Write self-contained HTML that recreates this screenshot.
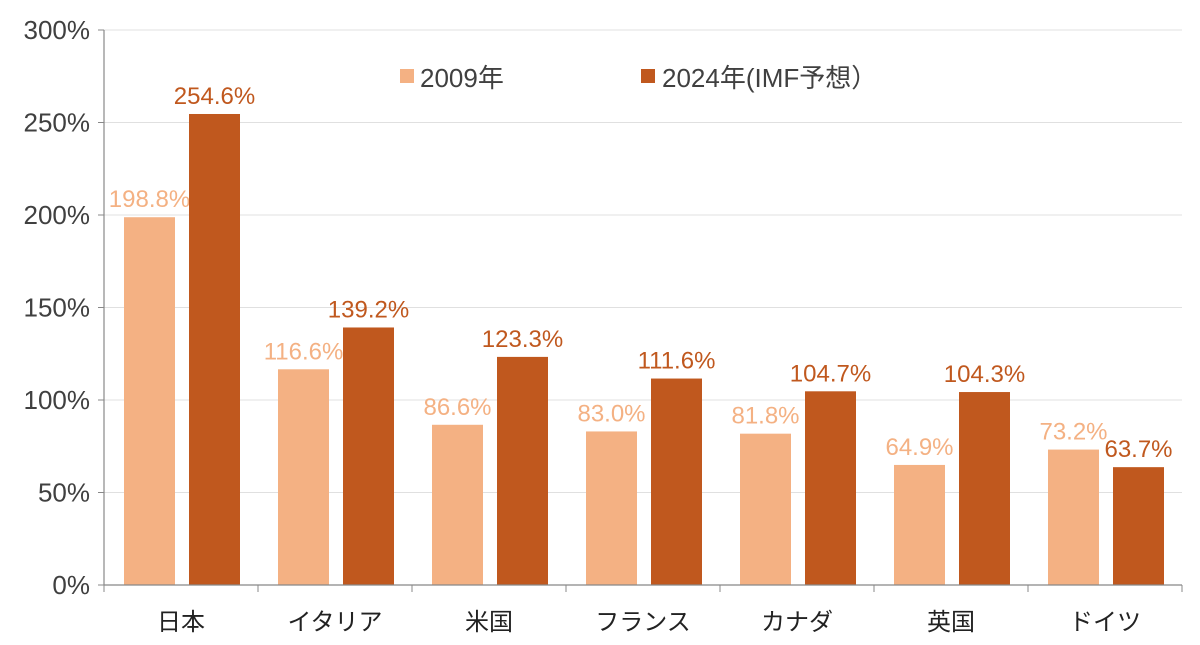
<!DOCTYPE html>
<html><head><meta charset="utf-8">
<style>
html,body{margin:0;padding:0;background:#fff;}
svg{display:block;font-family:"Liberation Sans","Noto Sans CJK JP",sans-serif;}
</style></head>
<body>
<svg id="chart" width="1200" height="645" viewBox="0 0 1200 645" xmlns="http://www.w3.org/2000/svg">
<g id="grid"></g>
<g id="yaxis"></g>
<g id="bars"></g>
<g id="xaxis"></g>
<g>
  <rect x="400" y="69" width="14" height="14" fill="#F4B183"/>
  <text x="420" y="87" font-size="26" fill="#404040">2009年</text>
  <rect x="641" y="69" width="14" height="14" fill="#C0581E"/>
  <text x="662" y="87" font-size="26" fill="#404040">2024年(IMF予想）</text>
</g>
</svg>
<script>
const categories = ["日本","イタリア","米国","フランス","カナダ","英国","ドイツ"];
const values2009 = [198.8,116.6,86.6,83.0,81.8,64.9,73.2];
const values2024 = [254.6,139.2,123.3,111.6,104.7,104.3,63.7];
const yTicks = [0,50,100,150,200,250,300];

const NS="http://www.w3.org/2000/svg";
const x0=104, x1=1182, y0=585, yTop=30, yMax=300;
const band=(x1-x0)/categories.length;
const y=v=>y0-(v/yMax)*(y0-yTop);
const xb=i=>x0+i*band;
function mk(tag,attrs,parent,text){const e=document.createElementNS(NS,tag);for(const k in attrs)e.setAttribute(k,attrs[k]);if(text!==undefined)e.textContent=text;parent.appendChild(e);return e;}
const grid=document.getElementById('grid'),yaxis=document.getElementById('yaxis'),bars=document.getElementById('bars'),xaxis=document.getElementById('xaxis');
yTicks.forEach(t=>{
  if(t>0){const g=mk('line',{x1:x0,x2:x1,y1:y(t),y2:y(t),stroke:'#E0E0E0','stroke-width':1},grid);
  
  }
  const tk=mk('line',{x1:x0-6,x2:x0,y1:y(t),y2:y(t),stroke:'#888','stroke-width':1},yaxis);
  
  
  const lb=mk('text',{x:x0-14,y:y(t)+9,'text-anchor':'end','font-size':26,fill:'#404040'},yaxis,t+'%');
  
  
});
const ya=mk('line',{x1:x0,x2:x0,y1:yTop,y2:y0,stroke:'#888','stroke-width':1.2},yaxis);


const xa=mk('line',{x1:x0,x2:x1,y1:y0,y2:y0,stroke:'#888','stroke-width':1.2},xaxis);


const bw=51, off1=20, off2=85;
categories.forEach((c,i)=>{
  const t=mk('line',{x1:xb(i),x2:xb(i),y1:y0,y2:y0+7,stroke:'#888'},xaxis);
  
  
  const l=mk('text',{x:xb(i)+band/2,y:y0+45,'text-anchor':'middle','font-size':24,fill:'#222'},xaxis,c);
  
  
  [[values2009,off1,'#F4B183','2009'],[values2024,off2,'#C0581E','2024']].forEach(([arr,off,col,nm])=>{
    const v=arr[i];
    const r=mk('rect',{x:xb(i)+off,y:y(v),width:bw,height:y0-y(v),fill:col},bars);
    
    
    const tx=mk('text',{x:xb(i)+off+bw/2,y:y(v)-10,'text-anchor':'middle','font-size':24,fill:col},bars,v.toFixed(1)+'%');
    
    
  });
});
const tl=mk('line',{x1:x1,x2:x1,y1:y0,y2:y0+7,stroke:'#888'},xaxis);


</script>
</body></html>
